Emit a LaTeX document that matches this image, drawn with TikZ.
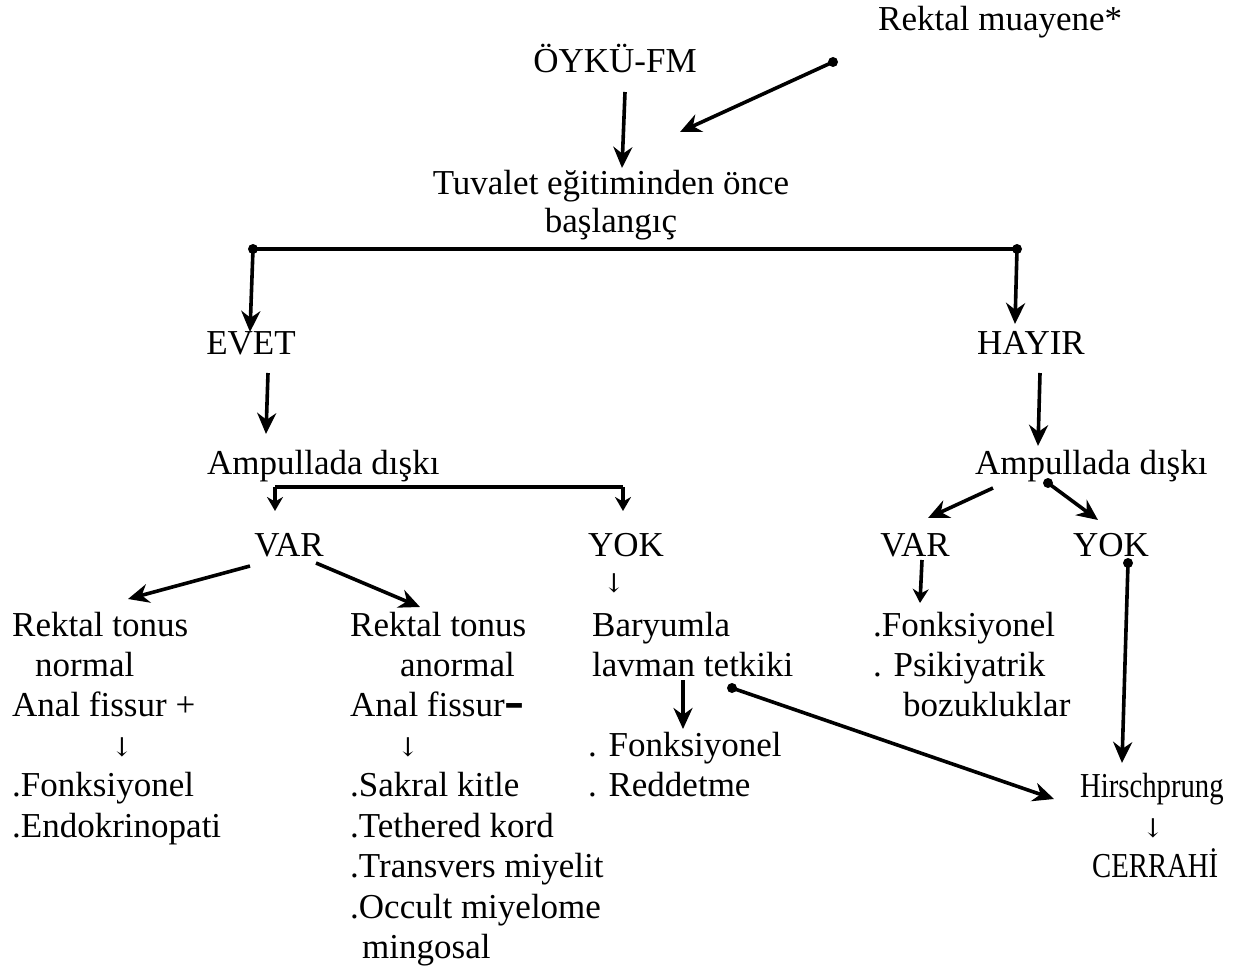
\documentclass[tikz,border=0pt]{standalone}
\usepackage{fontspec}
\setmainfont{Liberation Serif}
\newfontfamily\arrfont{DejaVu Serif}
\newfontfamily\condfont[FakeStretch=0.82]{Liberation Serif}
\usetikzlibrary{arrows.meta}
\begin{document}
\begin{tikzpicture}[x=1pt,y=-1pt,
  font=\fontsize{35}{40}\selectfont,
  txt/.style={inner sep=0pt, anchor=base west},
  ctxt/.style={inner sep=0pt, anchor=base},
  arr/.style={line width=3.6pt, -{Stealth[length=21pt,width=19pt]}},
  sarr/.style={line width=3.6pt, -{Stealth[length=14pt,width=16pt]}},
  ln/.style={line width=3.6pt},
  dotc/.style={circle, fill, inner sep=0pt, minimum size=10pt}]
\useasboundingbox (0,0) rectangle (1239,974);
% texts
\node[txt] (rm) at (878,31) {Rektal muayene*};
\node[ctxt] (oyku) at (615,73) {ÖYKÜ-FM};
\node[ctxt] (tuv1) at (611,194) {Tuvalet eğitiminden önce};
\node[ctxt] (tuv2) at (611,232) {başlangıç};
\node[ctxt] (evet) at (251,354) {EVET};
\node[ctxt] (hayir) at (1031,354) {HAYIR};
\node[txt] (ampL) at (207,474) {Ampullada dışkı};
\node[txt] (ampR) at (975,474) {Ampullada dışkı};
\node[ctxt] (varL) at (289,556) {VAR};
\node[ctxt] (yokL) at (626,556) {YOK};
\node[ctxt] (varR) at (915,556) {VAR};
\node[ctxt] (yokR) at (1111,556) {YOK};
\node[txt] (yokdown) at (603,592) {\arrfont\fontsize{26}{30}\selectfont ↓};
% column 1
\node[txt] (a1) at (12,636) {Rektal tonus};
\node[txt] (a2) at (35,676) {normal};
\node[txt] (a3) at (12,716) {Anal fissur +};
\node[txt] (a4) at (111,756) {\arrfont\fontsize{26}{30}\selectfont ↓};
\node[txt] (a5) at (12,796) {.Fonksiyonel};
\node[txt] (a6) at (12,837) {.Endokrinopati};
% column 2
\node[txt] (b1) at (350,636) {Rektal tonus};
\node[txt] (b2) at (400,676) {anormal};
\node[txt] (b3) at (350,716) {Anal fissur{\arrfont\bfseries\fontsize{40}{40}\selectfont –}};
\node[txt] (b4) at (397,756) {\arrfont\fontsize{26}{30}\selectfont ↓};
\node[txt] (b5) at (350,796) {.Sakral kitle};
\node[txt] (b6) at (350,837) {.Tethered kord};
\node[txt] (b7) at (350,877) {.Transvers miyelit};
\node[txt] (b8) at (350,918) {.Occult miyelome};
\node[txt] (b9) at (362,958) {mingosal};
% column 3
\node[txt] (c1) at (592,636) {Baryumla};
\node[txt] (c2) at (592,676) {lavman tetkiki};
\node[txt] (c3) at (588,756) {. Fonksiyonel};
\node[txt] (c4) at (588,796) {. Reddetme};
% column 4
\node[txt] (d1) at (873,636) {.Fonksiyonel};
\node[txt] (d2) at (873,676) {. Psikiyatrik};
\node[txt] (d3) at (903,716) {bozukluklar};
% right
\node[txt] (hir) at (1080,797) {\condfont Hirschprung};
\node[txt] (hdown) at (1142,837) {\arrfont\fontsize{26}{30}\selectfont ↓};
\node[txt] (cer) at (1092,877) {\condfont CERRAHİ};
% coordinates
\coordinate (p0) at (833,62);
\coordinate (p0e) at (680,132);
\coordinate (o1) at (625,92);
\coordinate (o2) at (622,168);
\coordinate (h1) at (253,249);
\coordinate (h2) at (1017,249);
\coordinate (h1e) at (250,332);
\coordinate (h2e) at (1015,324);
\coordinate (e1) at (268,373);
\coordinate (e2) at (266,434);
\coordinate (y1) at (1040,373);
\coordinate (y2) at (1038,446);
\coordinate (q1) at (275,487);
\coordinate (q2) at (623,487);
\coordinate (q1e) at (275,511);
\coordinate (q2e) at (623,511);
\coordinate (r1) at (993,488);
\coordinate (r1e) at (928,518);
\coordinate (r2) at (1048,483);
\coordinate (r2e) at (1098,520);
\coordinate (v1) at (250,566);
\coordinate (v1e) at (128,599);
\coordinate (v2) at (316,563);
\coordinate (v2e) at (420,607);
\coordinate (w1) at (922,560);
\coordinate (w1e) at (920,603);
\coordinate (k1) at (1128,563);
\coordinate (k1e) at (1122,763);
\coordinate (l1) at (683,680);
\coordinate (l1e) at (683,729);
\coordinate (m1) at (732,688);
\coordinate (m1e) at (1054,799);
% connectors
\draw[arr] (o1) -- (o2);
\node[dotc] at (p0) {};
\draw[arr] (p0) -- (p0e);
\draw[ln] (h1) -- (h2);
\node[dotc] at (h1) {};
\node[dotc] at (h2) {};
\draw[arr] (h1) -- (h1e);
\draw[arr] (h2) -- (h2e);
\draw[arr] (e1) -- (e2);
\draw[arr] (y1) -- (y2);
\draw[ln] (q1) -- (q2);
\draw[sarr] (q1) -- (q1e);
\draw[sarr] (q2) -- (q2e);
\draw[arr] (r1) -- (r1e);
\node[dotc] at (r2) {};
\draw[arr] (r2) -- (r2e);
\draw[arr] (v1) -- (v1e);
\draw[arr] (v2) -- (v2e);
\draw[sarr] (w1) -- (w1e);
\node[dotc] at (k1) {};
\draw[arr] (k1) -- (k1e);
\draw[arr] (l1) -- (l1e);
\node[dotc] at (m1) {};
\draw[arr] (m1) -- (m1e);
\end{tikzpicture}
\end{document}
